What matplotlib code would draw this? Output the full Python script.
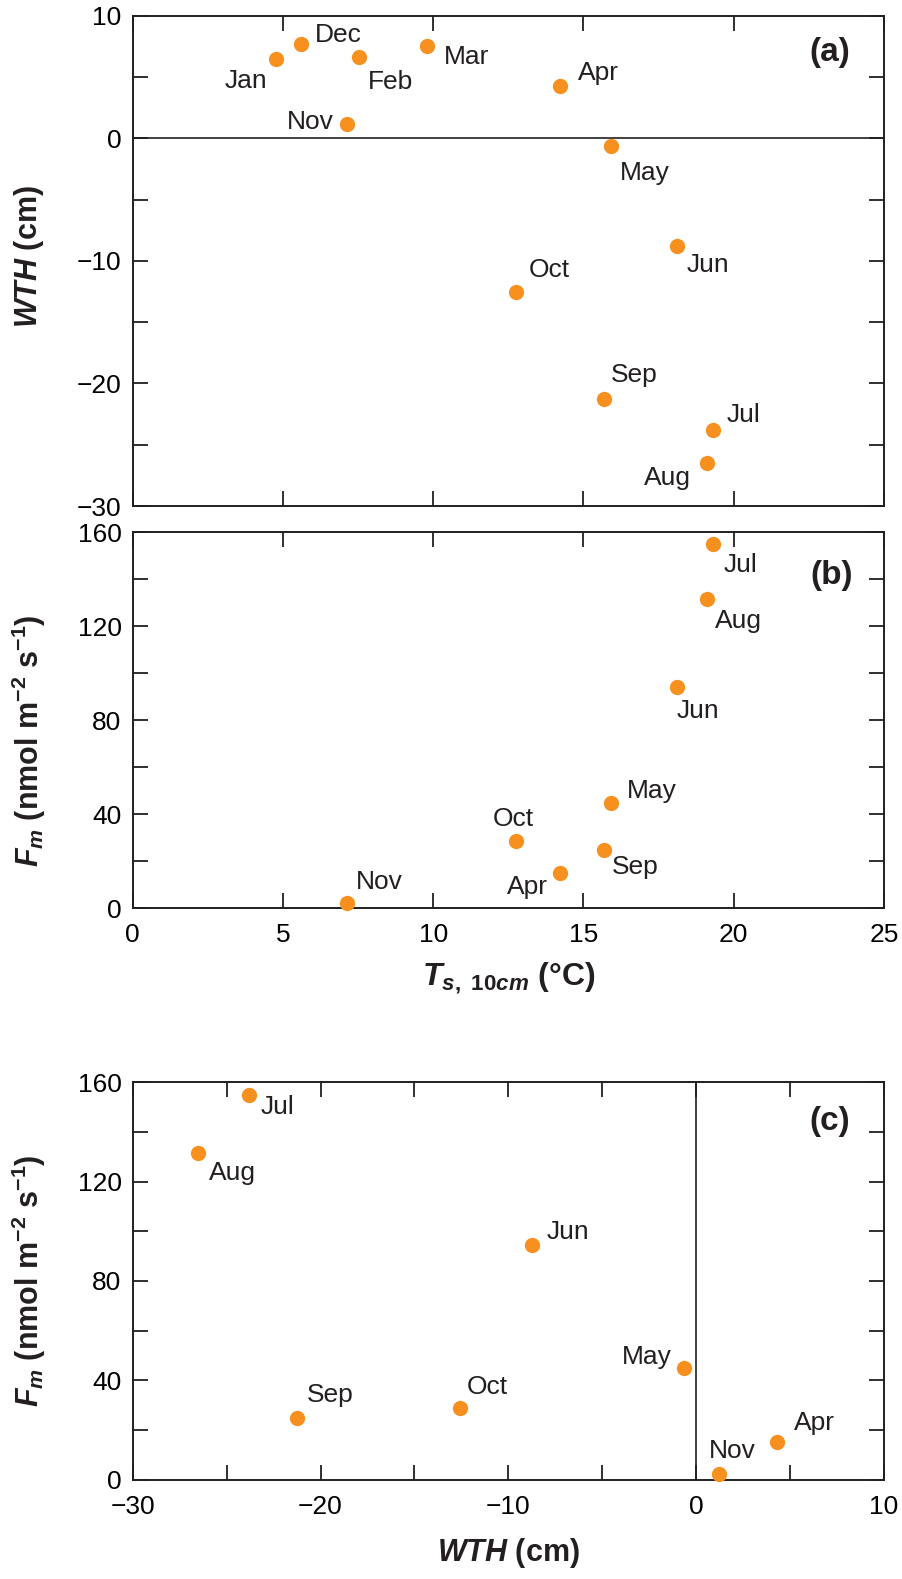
import numpy as np
import matplotlib
matplotlib.use("Agg")
import matplotlib.pyplot as plt
from matplotlib.ticker import MultipleLocator

plt.rcParams['font.family'] = ['Liberation Sans', 'DejaVu Sans']
plt.rcParams['mathtext.fontset'] = 'custom'
plt.rcParams['mathtext.rm'] = 'Liberation Sans:bold'
plt.rcParams['mathtext.bf'] = 'Liberation Sans:bold'
plt.rcParams['mathtext.it'] = 'Liberation Sans:italic:bold'
plt.rcParams['mathtext.sf'] = 'Liberation Sans:bold'

# ---------------- data ----------------
months = ['Jan', 'Feb', 'Mar', 'Apr', 'May', 'Jun', 'Jul', 'Aug', 'Sep', 'Oct', 'Nov', 'Dec']
ts_10cm = [4.78, 7.52, 9.79, 14.21, 15.92, 18.11, 19.30, 19.11, 15.69, 12.77, 7.13, 5.61]
wth = [6.44, 6.61, 7.54, 4.3, -0.65, -8.75, -23.8, -26.5, -21.25, -12.55, 1.2, 7.70]
fm_months = ['Apr', 'May', 'Jun', 'Jul', 'Aug', 'Sep', 'Oct', 'Nov']
fm = [15.0, 44.9, 94.3, 155.0, 131.7, 24.8, 28.7, 2.2]

# ---------------- style ----------------
ORANGE = '#F7901E'
INK = '#231F20'
MS = 11
TICK_FS = 19
LAB_FS = 19

# label offsets (pixels) and alignment per panel
off_a = {'Jan': (-9, -29, 'right'), 'Dec': (14, 2, 'left'), 'Feb': (9, -32, 'left'),
         'Mar': (17, -18, 'left'), 'Nov': (-13, -5, 'right'), 'Apr': (18, 6, 'left'),
         'May': (9, -34, 'left'), 'Jun': (10, -26, 'left'), 'Oct': (12, 15, 'left'),
         'Sep': (7, 17, 'left'), 'Jul': (14, 8, 'left'), 'Aug': (-16, -22, 'right')}
off_b = {'Nov': (9, 14, 'left'), 'Jul': (11, -28, 'left'), 'Aug': (8, -29, 'left'),
         'Jun': (0, -31, 'left'), 'May': (16, 5, 'left'), 'Oct': (-24, 15, 'left'),
         'Sep': (8, -24, 'left'), 'Apr': (-12, -21, 'right')}
off_c = {'Jul': (11, -19, 'left'), 'Aug': (11, -27, 'left'), 'Sep': (10, 16, 'left'),
         'Jun': (15, 6, 'left'), 'Oct': (6, 14, 'left'), 'May': (-12, 4, 'right'),
         'Nov': (-10, 16, 'left'), 'Apr': (17, 12, 'left')}

fig = plt.figure(figsize=(9.03, 15.79), dpi=100)
W, H = 903, 1579


def add_axes(left, top, right, bottom):
    return fig.add_axes([left / W, 1 - bottom / H, (right - left) / W, (bottom - top) / H])


ax_a = add_axes(132.7, 15.7, 884, 506)
ax_b = add_axes(132.7, 532.3, 884, 908)
ax_c = add_axes(132.7, 1082.3, 884, 1479.7)


def style(ax):
    for s in ax.spines.values():
        s.set_linewidth(1.4)
        s.set_color(INK)
    ax.tick_params(which='both', direction='in', length=10.5, width=1.3, color=INK,
                   top=True, right=True, labelsize=TICK_FS, labelcolor='black')
    ax.tick_params(axis='y', which='both', pad=8)
    ax.tick_params(axis='x', which='both', pad=11)


def label_points(ax, xs, ys, names, offs):
    for x, y, n in zip(xs, ys, names):
        dx, dy, ha = offs[n]
        ax.annotate(n, (x, y), xytext=(dx, dy), textcoords='offset pixels',
                    ha=ha, va='baseline', fontsize=LAB_FS, color=INK)


def ylabel(ax, s, yfrac):
    ax.text(-0.138, yfrac, s, transform=ax.transAxes, rotation=90, ha='center',
            va='center', fontsize=22, fontweight='bold', color=INK)


# ---- panel (a)
ax = ax_a
ax.axhline(0, color=INK, lw=1.2, zorder=1)
ax.plot(ts_10cm, wth, 'o', color=ORANGE, ms=MS, mec='none', zorder=3)
label_points(ax, ts_10cm, wth, months, off_a)
ax.set_xlim(0, 25)
ax.set_ylim(-30, 10)
ax.xaxis.set_major_locator(MultipleLocator(5))
ax.yaxis.set_major_locator(MultipleLocator(10))
ax.yaxis.set_minor_locator(MultipleLocator(5))
style(ax)
ax.tick_params(axis='x', labelbottom=False)
ylabel(ax, r'$WTH$ (cm)', 0.508)
ax.text(0.955, 0.924, '(a)', transform=ax.transAxes, ha='right', va='center',
        fontsize=24, fontweight='bold', color=INK)

# ---- panel (b)
idx = [months.index(m) for m in fm_months]
ts_fm = [ts_10cm[i] for i in idx]
wth_fm = [wth[i] for i in idx]
ax = ax_b
ax.plot(ts_fm, fm, 'o', color=ORANGE, ms=MS, mec='none', zorder=3, clip_on=False)
label_points(ax, ts_fm, fm, fm_months, off_b)
ax.set_xlim(0, 25)
ax.set_ylim(0, 160)
ax.xaxis.set_major_locator(MultipleLocator(5))
ax.yaxis.set_major_locator(MultipleLocator(40))
ax.yaxis.set_minor_locator(MultipleLocator(20))
style(ax)
ylabel(ax, r'$F_{m}$ (nmol m$^{-2}$ s$^{-1}$)', 0.445)
ax.text(0.5, -0.205, r'$T_{\mathit{s,\ 10cm}}$ (°C)', transform=ax.transAxes,
        ha='center', va='baseline', fontsize=23, fontweight='bold', color=INK)
ax.text(0.959, 0.886, '(b)', transform=ax.transAxes, ha='right', va='center',
        fontsize=24, fontweight='bold', color=INK)

# ---- panel (c)
ax = ax_c
ax.axvline(0, color=INK, lw=1.2, zorder=1)
ax.plot(wth_fm, fm, 'o', color=ORANGE, ms=MS, mec='none', zorder=3, clip_on=False)
label_points(ax, wth_fm, fm, fm_months, off_c)
ax.set_xlim(-30, 10)
ax.set_ylim(0, 160)
ax.xaxis.set_major_locator(MultipleLocator(10))
ax.xaxis.set_minor_locator(MultipleLocator(5))
ax.yaxis.set_major_locator(MultipleLocator(40))
ax.yaxis.set_minor_locator(MultipleLocator(20))
style(ax)
ylabel(ax, r'$F_{m}$ (nmol m$^{-2}$ s$^{-1}$)', 0.5)
ax.text(0.5, -0.205, r'$WTH$ (cm)', transform=ax.transAxes,
        ha='center', va='baseline', fontsize=22, fontweight='bold', color=INK)
ax.text(0.955, 0.901, '(c)', transform=ax.transAxes, ha='right', va='center',
        fontsize=24, fontweight='bold', color=INK)

fig.savefig('out.png', dpi=100)
